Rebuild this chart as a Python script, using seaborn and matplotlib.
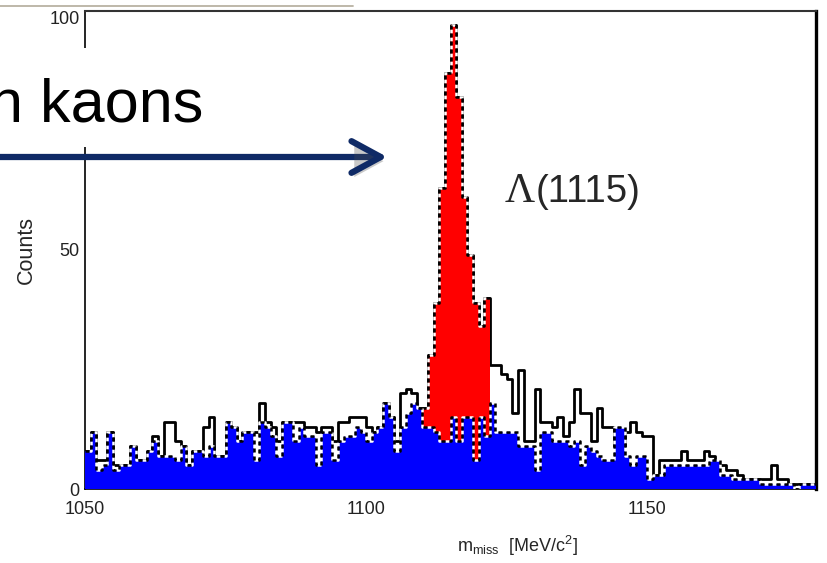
import numpy as np
import pandas as pd
import matplotlib
matplotlib.use("Agg")
from matplotlib import pyplot as plt
from matplotlib import font_manager
from matplotlib.lines import Line2D
from matplotlib.patches import Rectangle, FancyArrowPatch
from matplotlib.ticker import MultipleLocator
import matplotlib.patheffects as pe
import seaborn as sns

# histogram range, 1 MeV bins
m_lo, m_hi = 1050, 1180

# background (blue), one value per bin from 1050 to 1179
background_counts = [
    8, 12, 4, 5, 12, 4, 5, 5, 9, 6,
    6, 8, 10, 7, 7, 7, 6, 9, 5, 8,
    8, 7, 9, 7, 7, 14, 13, 10, 12, 12,
    6, 14, 13, 11, 7, 14, 14, 10, 13, 11,
    11, 5, 12, 12, 6, 10, 11, 11, 13, 12,
    10, 12, 13, 18, 15, 8, 13, 16, 18, 17,
    13, 13, 12, 10, 10, 15, 10, 15, 15, 6,
    15, 11, 18, 12, 12, 12, 12, 9, 9, 9,
    4, 12, 12, 10, 10, 10, 9, 10, 5, 9,
    8, 7, 6, 6, 13, 13, 7, 5, 7, 7,
    2, 3, 3, 5, 5, 5, 5, 5, 5, 5,
    5, 6, 6, 3, 3, 2, 2, 2, 2, 2,
    1, 1, 1, 1, 1, 1, 0, 1, 1, 1,
]

# all events (black outline)
all_counts = [
    8, 12, 6, 6, 12, 5, 5, 5, 9, 6,
    6, 8, 11, 7, 14, 14, 10, 9, 5, 8,
    8, 13, 15, 7, 7, 14, 13, 10, 12, 12,
    12, 18, 14, 13, 10, 14, 14, 14, 14, 13,
    13, 12, 13, 13, 10, 14, 14, 15, 15, 15,
    13, 12, 13, 18, 15, 10, 20, 21, 20, 17,
    17, 28, 39, 63, 87, 97, 82, 61, 49, 39,
    34, 40, 26, 26, 24, 23, 16, 25, 10, 10,
    21, 14, 14, 13, 15, 11, 14, 21, 16, 16,
    10, 17, 13, 13, 9, 9, 12, 14, 12, 11,
    11, 3, 6, 6, 6, 6, 8, 6, 6, 6,
    8, 7, 5, 5, 4, 4, 3, 2, 2, 2,
    2, 2, 5, 2, 2, 1, 1, 1, 1, 1,
]

# Lambda(1115) peak (red), bins from 1110 to 1121
lambda_lo = 1110
lambda_counts = [17, 28, 39, 63, 87, 97, 82, 61, 49, 39, 34, 40]


def draw_hist(ax, lo, counts, fill_color=None, edge_style="-", edge_lw=1.8,
              gap="white", z=1):
    """
    Step histogram from pre-binned counts: filled area plus a (dashed) edge
    """
    edges = [float(lo + i) for i in range(len(counts) + 1)]
    df = pd.DataFrame({"m": [e + 0.5 for e in edges[:-1]],
                       "n": [float(c) for c in counts]})
    if fill_color is not None:
        sns.histplot(data=df, x="m", weights="n", bins=edges, ax=ax,
                     element="step", fill=True, color=fill_color, alpha=1,
                     linewidth=0, zorder=z)
    kws = dict(linestyle=edge_style, linewidth=edge_lw, zorder=z + 0.5)
    if edge_style != "-":
        kws["gapcolor"] = gap
    sns.histplot(data=df, x="m", weights="n", bins=edges, ax=ax,
                 element="step", fill=False, color="black", **kws)


sns.set_style("white")
names = {f.name for f in font_manager.fontManager.ttflist}
narrow = "Liberation Sans Narrow" if "Liberation Sans Narrow" in names else None
plt.rcParams["font.family"] = ["Liberation Sans", "DejaVu Sans"]
plt.rcParams["mathtext.fontset"] = "custom"
plt.rcParams["mathtext.rm"] = "Liberation Sans"
plt.rcParams["mathtext.it"] = "Liberation Sans"

W, H = 827, 563
fig = plt.figure(figsize=(W / 100, H / 100), dpi=100)
ax = fig.add_axes([85 / W, 1 - 489 / H, 731 / W, 478 / H])

draw_hist(ax, m_lo, all_counts, fill_color=None, edge_lw=2.0, z=1)
draw_hist(ax, lambda_lo, lambda_counts, fill_color="#ff0000",
          edge_style=(0, (1.6, 1.6)), edge_lw=1.8, z=2)
draw_hist(ax, m_lo, background_counts, fill_color="#0000ff",
          edge_style=(0, (1.6, 1.6)), edge_lw=1.8, z=4)

ax.set_xlim(m_lo, m_hi)
ax.set_ylim(0, 100)
ax.set_xticks([1050, 1100, 1150])
ax.set_yticks([0, 50, 100])
ax.xaxis.set_minor_locator(MultipleLocator(10))
ax.yaxis.set_minor_locator(MultipleLocator(10))
ax.tick_params(which="major", direction="in", length=6, width=1,
               labelsize=13, colors="#222222")
ax.tick_params(axis="x", which="major", pad=9)
ax.tick_params(axis="y", which="major", pad=4)
ax.tick_params(which="minor", direction="in", length=4, width=0.9,
               colors="#222222")
ax.tick_params(top=False, right=False)
ax.get_yticklabels()[-1].set_va("top")

for side in ["left", "bottom"]:
    ax.spines[side].set_color("black")
    ax.spines[side].set_linewidth(1.2)
ax.spines["top"].set_color("#333333")
ax.spines["top"].set_linewidth(1.5)
ax.spines["right"].set_color("black")
ax.spines["right"].set_linewidth(2.4)

ax.set_ylabel("Counts", fontsize=15.5)
ax.yaxis.set_label_coords(-0.066, 0.5)
ax.set_xlabel(r"m$_{\mathrm{miss}}$  [MeV/c$^{2}$]", fontsize=13)
ax.xaxis.set_label_coords(0.592, -0.094)

# peak label
ax.text(1124.6, 62.2, "Λ", fontsize=30, family="Liberation Serif",
        va="center", ha="left")
if narrow:
    ax.text(1130.1, 62.2, "(1115)", fontsize=31, family=narrow,
            va="center", ha="left")
else:
    ax.text(1130.1, 62.2, "(1115)", fontsize=27.5,
            va="center", ha="left")

# slide decoration: rule, white box with big text, arrow
fig.add_artist(Line2D([0, 353 / W], [1 - 6 / H, 1 - 6 / H],
                      transform=fig.transFigure, color="#b9b2a2", lw=1.3))
fig.add_artist(Rectangle((0, 1 - 147 / H), 215 / W, 99 / H,
                         transform=fig.transFigure, facecolor="white",
                         edgecolor="none", zorder=5))
fig.text(-11 / W, 1 - 121 / H, "n kaons", fontsize=44, va="baseline",
         ha="left", color="black", zorder=6)
arrow = FancyArrowPatch((-5 / W, 1 - 157 / H), (390 / W, 1 - 157 / H),
                        transform=fig.transFigure,
                        arrowstyle="->,head_length=0.7,head_width=0.38",
                        mutation_scale=30, lw=4.5, color="#0f2a66",
                        capstyle="round", joinstyle="round", zorder=7)
arrow.set_path_effects([pe.SimplePatchShadow(offset=(2, -3), alpha=0.3),
                        pe.Normal()])
fig.add_artist(arrow)

fig.savefig("out.png", dpi=100)
